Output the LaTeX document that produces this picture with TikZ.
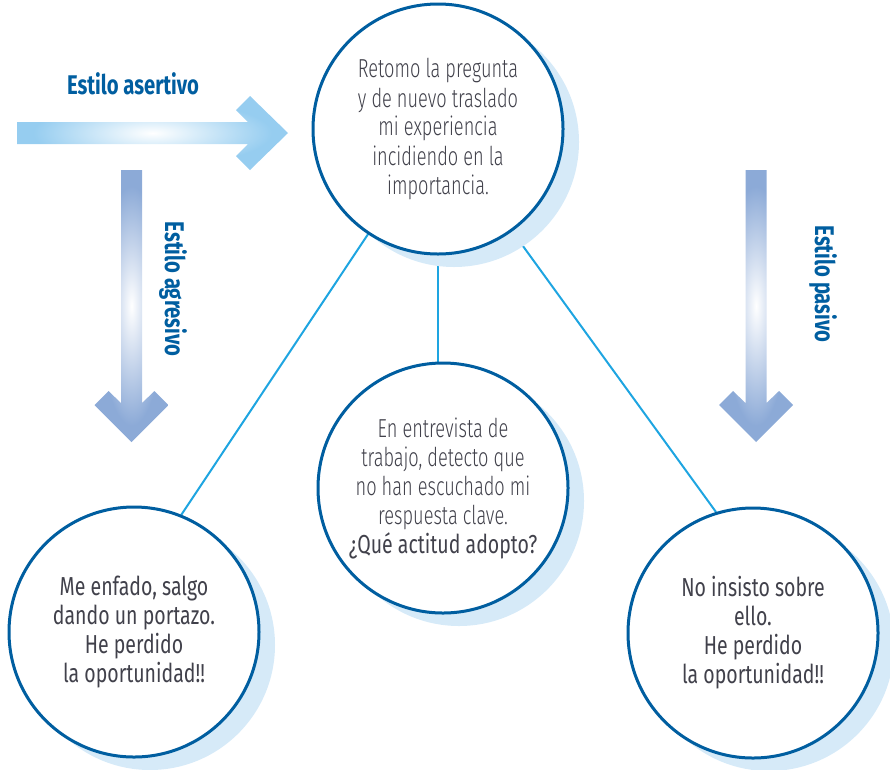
\documentclass[tikz,border=0pt]{standalone}
\usepackage{fontspec}
\setmainfont{Fira Sans}[FakeStretch=0.75]
\newfontfamily\lightfont{Fira Sans Light}[FakeStretch=0.7]
\usetikzlibrary{shadows,backgrounds}

\definecolor{ringblue}{RGB}{0,94,160}
\definecolor{shadowblue}{RGB}{214,234,248}
\definecolor{linkcyan}{RGB}{30,165,225}
\definecolor{textgray}{RGB}{65,65,75}
\definecolor{skyarrow}{RGB}{150,205,240}
\definecolor{steelarrow}{RGB}{140,170,215}

\pgfdeclareradialshading{glowsky}{\pgfpoint{0bp}{0bp}}{color(0bp)=(white); color(22bp)=(skyarrow); color(50bp)=(skyarrow)}
\pgfdeclareradialshading{glowsteel}{\pgfpoint{0bp}{0bp}}{color(0bp)=(white); color(22bp)=(steelarrow); color(50bp)=(steelarrow)}

\tikzset{
  bubble/.style={circle, draw=ringblue, line width=3pt, fill=white, minimum size=250pt, inner sep=0pt,
    align=center, text=textgray, font=\fontsize{26}{29}\selectfont,
    drop shadow={shadow xshift=16pt, shadow yshift=-13pt, fill=shadowblue, opacity=1}},
  lightbubble/.style={bubble, font=\lightfont\fontsize{26}{29}\selectfont},
  link/.style={draw=linkcyan, line width=2pt},
  estilo/.style={text=ringblue, font=\bfseries\fontsize{27}{29}\selectfont}
}

\begin{document}
\begin{tikzpicture}[x=1pt,y=-1pt]
\useasboundingbox (0,0) rectangle (890,769);

% arrows
\path[shading=glowsky] (17,122) -- (248,122) -- (236,110) -- (250,96) -- (288,133)
  -- (250,170) -- (236,156) -- (248,144) -- (17,144) -- cycle;
\foreach \cx in {131.5,756}
  \path[shading=glowsteel] (\cx-10.5,170) -- (\cx-10.5,403) -- (\cx-23,391) -- (\cx-37,405) -- (\cx,442)
    -- (\cx+37,405) -- (\cx+23,391) -- (\cx+10.5,403) -- (\cx+10.5,170) -- cycle;

\node[estilo] (asertivo) at (133,84) {Estilo asertivo};
\node[estilo, rotate=-90] (agresivo) at (173,289) {Estilo agresivo};
\node[estilo, rotate=-90] (pasivolbl) at (823,284) {Estilo pasivo};

% circles
\node[lightbubble] (top) at (438,129) {Retomo la pregunta\\y de nuevo traslado\\mi experiencia\\incidiendo en la\\importancia.};
\node[lightbubble] (mid) at (443,488) {En entrevista de\\trabajo, detecto que\\no han escuchado mi\\respuesta clave.\\{\normalfont ¿Qué actitud adopto?}};
\node[bubble] (aggr) at (134,632) {Me enfado, salgo\\dando un portazo.\\He perdido\\la oportunidad!!};
\node[bubble] (pasivo) at (753,633) {No insisto sobre\\ello.\\He perdido\\la oportunidad!!};

\begin{scope}[on background layer]
\path[link] (top.center) -- (aggr.68);
\path[link] (top.center) -- (top.center |- mid.north);
\path[link] (top.center) -- (pasivo.107);
\end{scope}
\end{tikzpicture}
\end{document}
